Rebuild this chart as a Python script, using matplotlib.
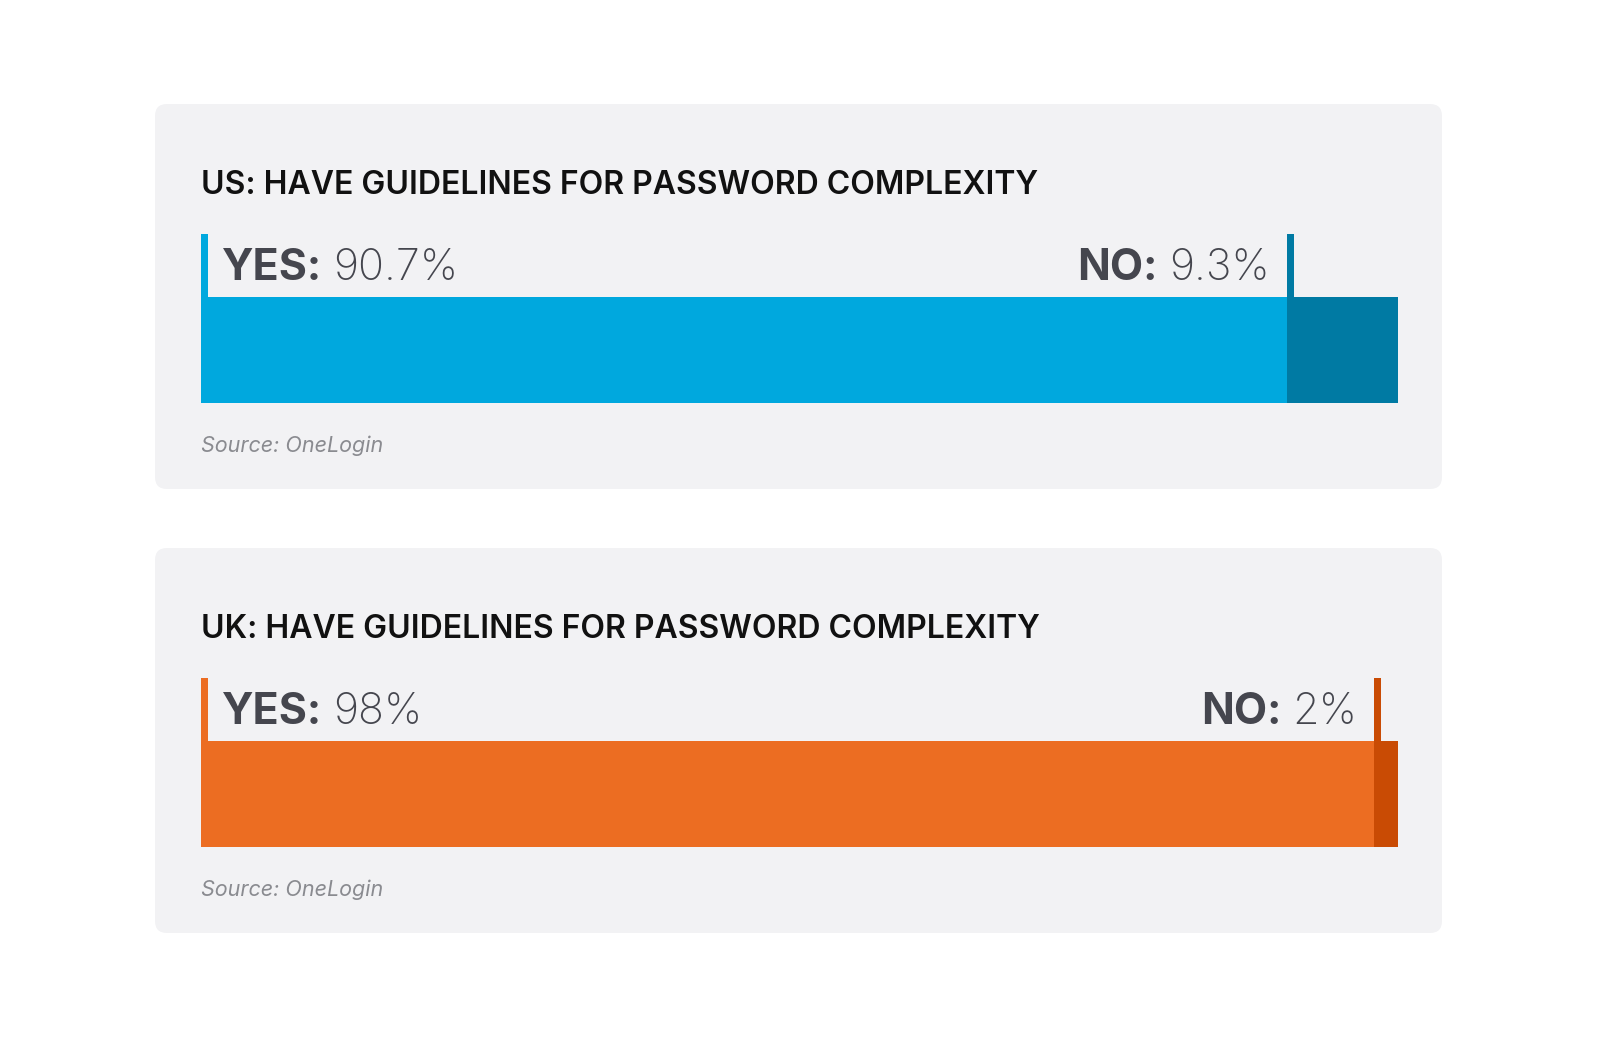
import matplotlib
matplotlib.use('Agg')
from matplotlib import pyplot as plt
from matplotlib.patches import FancyBboxPatch

# data
countries = ['US', 'UK']
yes_values = [90.7, 98.0]
no_values = [9.3, 2.0]
yes_labels = ['90.7%', '98%']
no_labels = ['9.3%', '2%']
source = 'Source: OneLogin'

# style
light_colors = ['#00a8de', '#ec6d22']
dark_colors = ['#007aa3', '#c94b04']
panel_color = '#f2f2f4'
text_color = '#45464e'
FONT = ['Inter', 'Lato', 'DejaVu Sans']

W, H = 1600, 1038
fig = plt.figure(figsize=(W / 100, H / 100), dpi=100)
fig.patch.set_facecolor('white')
renderer = fig.canvas.get_renderer()

# full-figure axes in pixel units, for the panels
bg = fig.add_axes([0, 0, 1, 1])
bg.set_xlim(0, W)
bg.set_ylim(H, 0)
bg.axis('off')

panel_tops = [104, 548]
panel_left, panel_right, panel_h = 155, 1442, 385
bar_left, bar_right = 201, 1398


def px_box(x0, y0, x1, y1):
    # pixel box (top-left origin) -> figure fraction rect
    return [x0 / W, 1 - y1 / H, (x1 - x0) / W, (y1 - y0) / H]


for i, country in enumerate(countries):
    top = panel_tops[i]
    bg.add_patch(FancyBboxPatch((panel_left, top), panel_right - panel_left, panel_h,
                                boxstyle='round,pad=0,rounding_size=12',
                                facecolor=panel_color, edgecolor='none'))

    # title
    bg.text(bar_left, top + 90, f'{country}: HAVE GUIDELINES FOR PASSWORD COMPLEXITY',
            fontsize=23, fontweight='semibold', family=FONT, color='#111111',
            ha='left', va='baseline')
    # source
    bg.text(bar_left, top + 348, source, fontsize=15.5, style='italic',
            family=FONT, color='#8a8b90', ha='left', va='baseline')

    # bar axes: x in percent, y in pixels from the bar bottom
    tick_top = top + 130
    bar_top = top + 193
    bar_bot = top + 299
    ax = fig.add_axes(px_box(bar_left, tick_top, bar_right, bar_bot))
    ax.set_xlim(0, 100)
    ax.set_ylim(0, bar_bot - tick_top)
    ax.axis('off')
    bar_h = bar_bot - bar_top
    tick_w = 7 / (bar_right - bar_left) * 100

    ax.barh(bar_h / 2, yes_values[i], height=bar_h, left=0, color=light_colors[i])
    ax.barh(bar_h / 2, no_values[i], height=bar_h, left=yes_values[i], color=dark_colors[i])
    # marker ticks above the bar
    ax.bar(0, bar_top - tick_top, width=tick_w,
           bottom=bar_h, align='edge', color=light_colors[i])
    ax.bar(yes_values[i], bar_top - tick_top, width=tick_w,
           bottom=bar_h, align='edge', color=dark_colors[i])

    base_y = bar_h + 17
    size = 31

    # YES label, left
    t1 = ax.annotate('YES:', (0, base_y), xytext=(21, 0), textcoords='offset pixels',
                     fontsize=size, fontweight='bold', family=FONT, color=text_color,
                     ha='left', va='baseline')
    bb = t1.get_window_extent(renderer)
    ax.annotate(yes_labels[i], (0, base_y), xytext=(21 + bb.width + 11, 0),
                textcoords='offset pixels', fontsize=size, fontweight='light',
                family=FONT, color=text_color, ha='left', va='baseline')

    # NO label, right aligned before the divider tick
    t2 = ax.annotate(no_labels[i], (yes_values[i], base_y), xytext=(-17, 0),
                     textcoords='offset pixels', fontsize=size, fontweight='light',
                     family=FONT, color=text_color, ha='right', va='baseline')
    bb = t2.get_window_extent(renderer)
    ax.annotate('NO:', (yes_values[i], base_y), xytext=(-17 - bb.width - 11, 0),
                textcoords='offset pixels', fontsize=size, fontweight='bold',
                family=FONT, color=text_color, ha='right', va='baseline')

fig.savefig('out.png', dpi=100, facecolor='white')
